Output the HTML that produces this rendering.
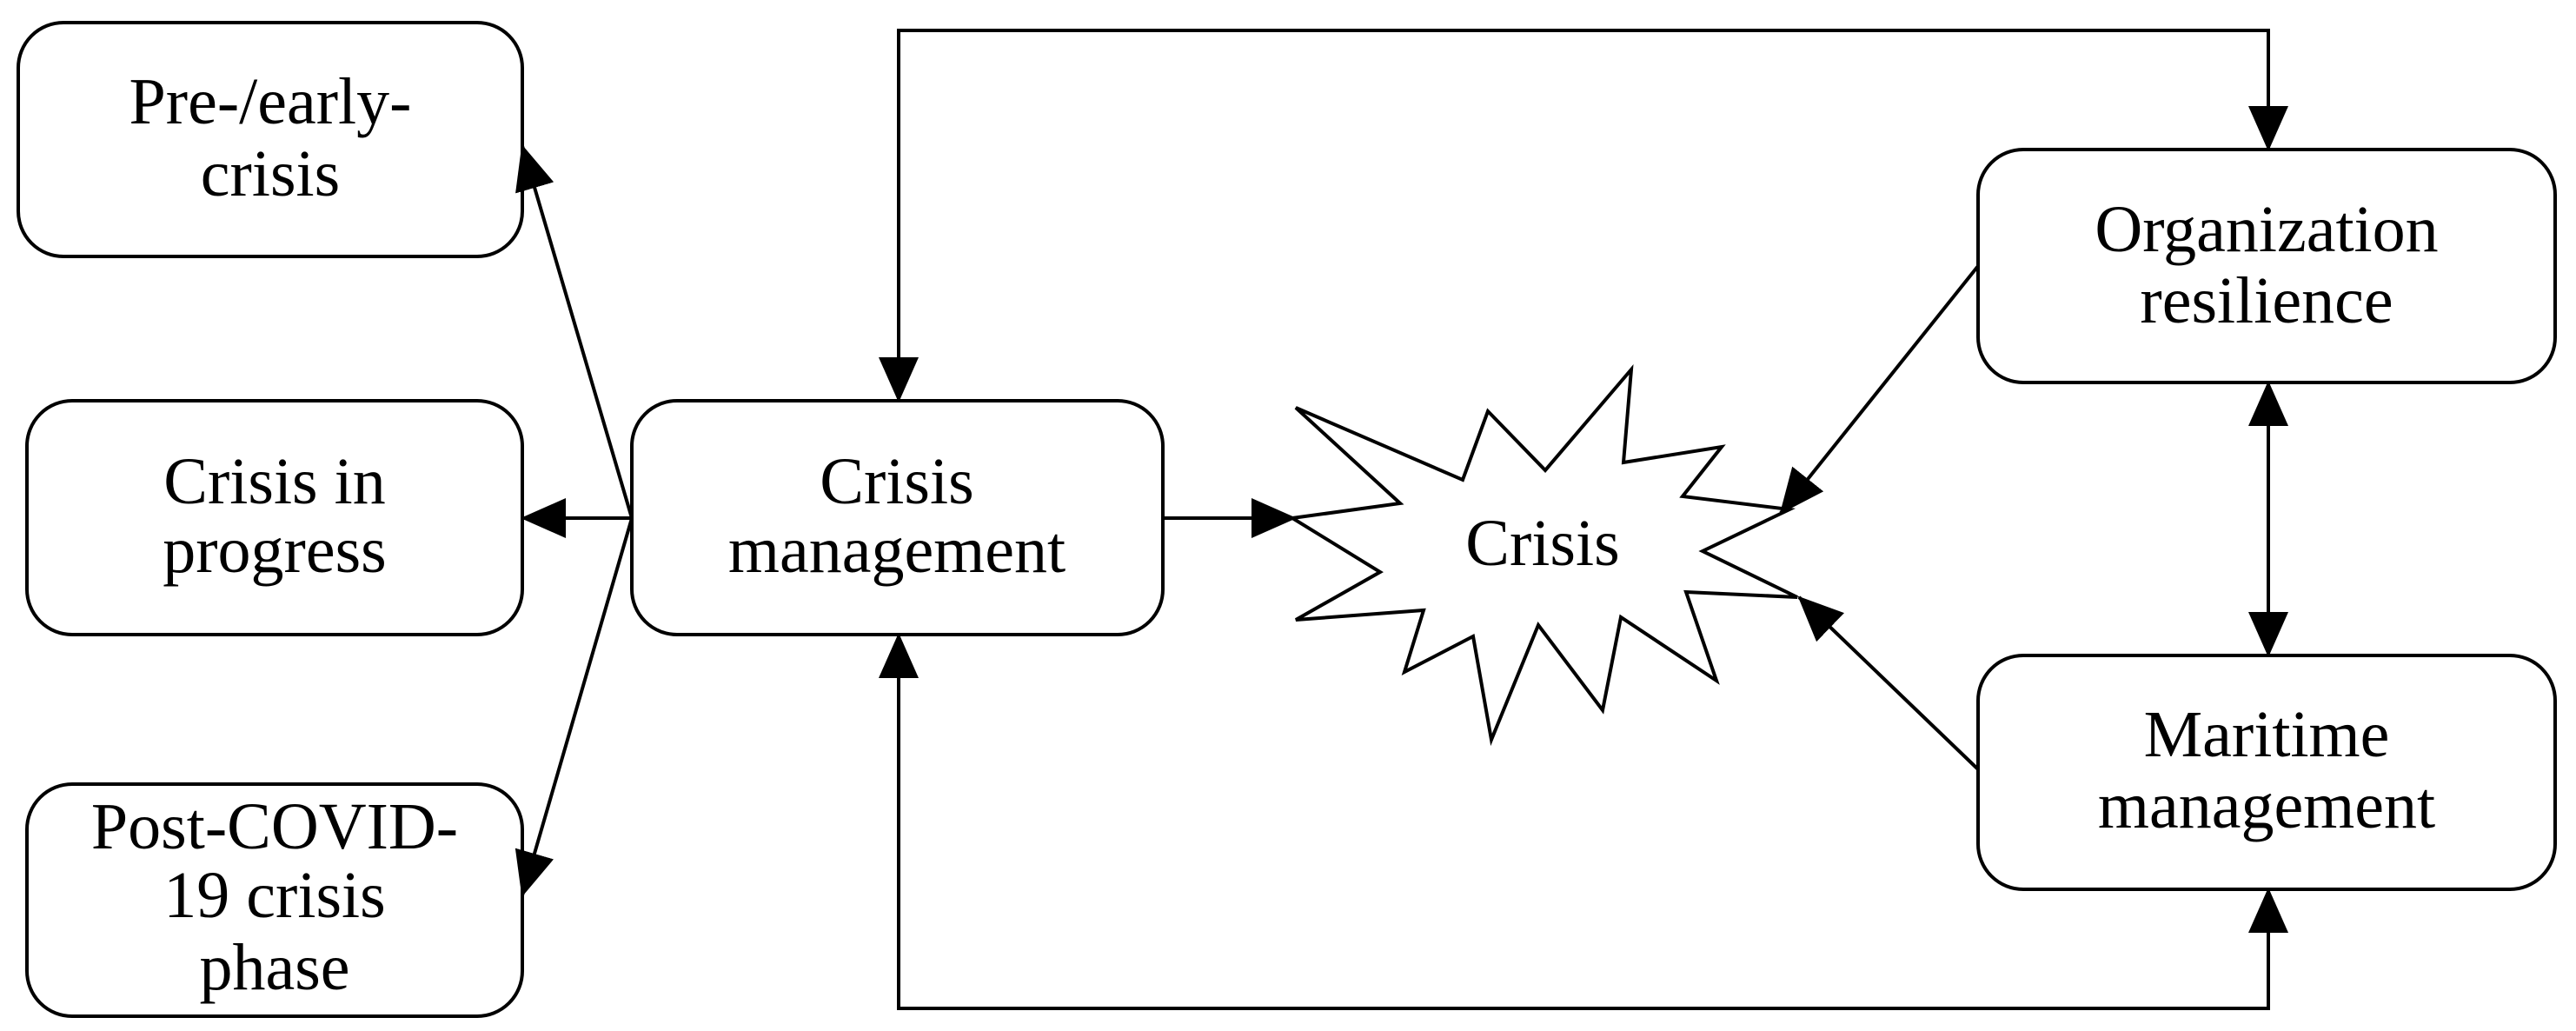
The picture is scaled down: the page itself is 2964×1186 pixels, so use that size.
<!DOCTYPE html>
<html><head><meta charset="utf-8"><style>html,body{margin:0;padding:0;background:#fff}svg{display:block}</style></head>
<body>
<svg width="2964" height="1186" viewBox="0 0 2964 1186" xmlns="http://www.w3.org/2000/svg">
<defs>
<marker id="a" markerUnits="userSpaceOnUse" markerWidth="52" markerHeight="46" refX="50" refY="23" orient="auto">
<path d="M0,0 L52,23 L0,46 z" fill="#000"/>
</marker>
<marker id="s" markerUnits="userSpaceOnUse" markerWidth="52" markerHeight="46" refX="2" refY="23" orient="auto">
<path d="M52,0 L0,23 L52,46 z" fill="#000"/>
</marker>
</defs>
<g fill="#fff" stroke="#000" stroke-width="4">
<rect x="21" y="26" width="580" height="269" rx="52"/>
<rect x="31" y="461" width="570" height="269" rx="52"/>
<rect x="31" y="902" width="570" height="267" rx="52"/>
<rect x="727" y="461" width="611" height="269" rx="52"/>
<rect x="2276" y="172" width="664" height="268" rx="52"/>
<rect x="2276" y="754" width="664" height="269" rx="52"/>
<polygon points="1491,469 1683,552 1712,473 1778,541 1877,425 1868,532 1981,514 1936,571 2059,586 1959,634 2068,687 1940,681 1975,783 1865,710 1844,817 1770,719 1716,851 1695,732 1616,773 1638,702 1491,713 1588,658 1487,596 1611,579"/>
</g>
<g fill="none" stroke="#000" stroke-width="4">
<line x1="727" y1="596" x2="601" y2="168" marker-end="url(#a)"/>
<line x1="727" y1="596" x2="601" y2="596" marker-end="url(#a)"/>
<line x1="727" y1="596" x2="601" y2="1030" marker-end="url(#a)"/>
<line x1="1338" y1="596" x2="1490" y2="596" marker-end="url(#a)"/>
<polyline points="2610,172 2610,35 1034,35 1034,461" marker-end="url(#a)"/>
<path d="M2610,35 L2610,172" marker-end="url(#a)"/>
<polyline points="1034,730 1034,1160 2610,1160 2610,1023" marker-end="url(#a)"/>
<path d="M1034,1160 L1034,730" marker-end="url(#a)"/>
<line x1="2276" y1="306" x2="2049" y2="590" marker-end="url(#a)"/>
<line x1="2276" y1="885" x2="2070" y2="687" marker-end="url(#a)"/>
<line x1="2610" y1="440" x2="2610" y2="754" marker-start="url(#s)" marker-end="url(#a)"/>
</g>
<g font-family="'Liberation Serif', serif" font-size="76" text-anchor="middle" fill="#000">
<text x="311" y="142">Pre-/early-</text>
<text x="311" y="225">crisis</text>
<text x="316" y="579">Crisis in</text>
<text x="316" y="658">progress</text>
<text x="316" y="976">Post-COVID-</text>
<text x="316" y="1055">19 crisis</text>
<text x="316" y="1138">phase</text>
<text x="1032" y="579">Crisis</text>
<text x="1032" y="658">management</text>
<text x="1775" y="650">Crisis</text>
<text x="2608" y="289">Organization</text>
<text x="2608" y="371">resilience</text>
<text x="2608" y="870">Maritime</text>
<text x="2608" y="952">management</text>
</g>
</svg>
</body></html>
